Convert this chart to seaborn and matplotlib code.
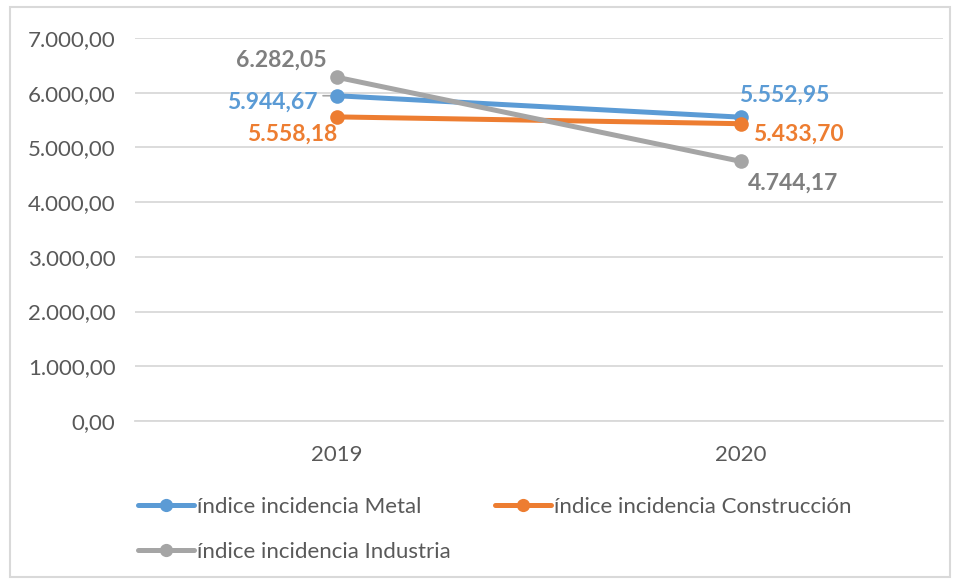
import matplotlib
matplotlib.use("Agg")
import matplotlib.pyplot as plt
import seaborn as sns
import pandas as pd
from matplotlib.patches import Rectangle
from matplotlib.lines import Line2D

years = ["2019", "2020"]
series_names = ["índice incidencia Metal", "índice incidencia Construcción", "índice incidencia Industria"]
metal = [5944.67, 5552.95]
construccion = [5558.18, 5433.70]
industria = [6282.05, 4744.17]
yticks = [0, 1000, 2000, 3000, 4000, 5000, 6000, 7000]

colors = ["#5B9BD5", "#ED7D31", "#A5A5A5"]
label_colors = ["#5B9BD5", "#ED7D31", "#7F7F7F"]

def fmt(v):
    s = f"{v:,.2f}"
    return s.replace(",", "X").replace(".", ",").replace("X", ".")

rows = []
for name, vals in zip(series_names, [metal, construccion, industria]):
    for y, v in zip(years, vals):
        rows.append({"year": y, "value": v, "serie": name})
df = pd.DataFrame(rows)

sns.set_theme(style="white")
plt.rcParams['font.family'] = ['Lato', 'DejaVu Sans']

fig = plt.figure(figsize=(9.61, 5.81), dpi=100)
ax = fig.add_axes([135/961, 160/581, 808/961, 383/581])

sns.lineplot(data=df, x="year", y="value", hue="serie", hue_order=series_names,
             palette=colors, marker="o", markersize=10.5, markeredgewidth=0,
             linewidth=3.6, ax=ax, legend=False, sort=False)

ax.set_xlim(-0.5, 1.5)
ax.set_ylim(0, 7000)
ax.set_yticks(yticks)
ax.set_yticklabels([fmt(v) for v in yticks])
ax.yaxis.grid(True, color="#D9D9D9", linewidth=1.3)
ax.set_axisbelow(True)
for s in ["top", "right", "left"]:
    ax.spines[s].set_visible(False)
ax.spines["bottom"].set_color("#D9D9D9")
ax.spines["bottom"].set_linewidth(1.3)
ax.tick_params(axis="both", length=0, labelsize=16, colors="#595959")
ax.tick_params(axis="y", pad=14)
ax.tick_params(axis="x", pad=17)
ax.set_xlabel("")
ax.set_ylabel("")

offsets = {
    (0, 0): (-65, -6), (0, 1): (43, 22),
    (1, 0): (-45, -17), (1, 1): (57, -11),
    (2, 0): (-56, 17), (2, 1): (52, -22),
}
for si, vals in enumerate([metal, construccion, industria]):
    for xi, v in enumerate(vals):
        dx, dy = offsets[(si, xi)]
        ax.annotate(fmt(v), (xi, v), xytext=(dx, dy), textcoords="offset pixels",
                    ha="center", va="center", fontsize=16.5, fontweight="bold",
                    color=label_colors[si])
# leader line for the 2019 Metal label
ax.annotate("", (0, metal[0]), xytext=(-14, 0), textcoords="offset pixels",
            arrowprops=dict(arrowstyle="-", color="#A5A5A5", lw=1.2, shrinkA=0, shrinkB=4),
            zorder=1)

handles = [Line2D([0], [0], color=c, lw=3.6, marker="o", markersize=9.5, markeredgewidth=0)
           for c in colors]
order = [0, 2, 1]
fig.legend([handles[i] for i in order], [series_names[i] for i in order],
           loc="upper left", bbox_to_anchor=(138/961, 1 - 497/581),
           ncol=2, frameon=False, fontsize=16, labelcolor="#595959", borderpad=0,
           borderaxespad=0, handlelength=2.5, handletextpad=0.15, columnspacing=2.0,
           labelspacing=1.12)

fig.patches.append(Rectangle((10/961, 4/581), 940/961, 570/581, transform=fig.transFigure,
                             fill=False, edgecolor="#D9D9D9", linewidth=1.5))

fig.savefig("out.png", dpi=100)
